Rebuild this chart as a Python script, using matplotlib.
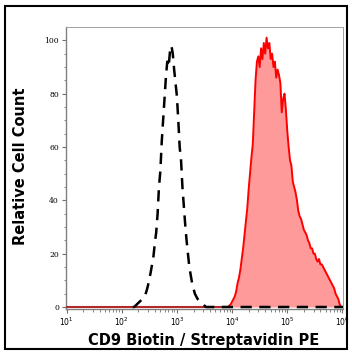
import numpy as np
import matplotlib
matplotlib.use("Agg")
import matplotlib.pyplot as plt
from matplotlib.patches import Rectangle
from matplotlib.ticker import FixedLocator, LogLocator, NullFormatter
import matplotlib.transforms as mtransforms

# ---- data (log10 fluorescence positions, relative counts) ----
control_log_start, control_log_step = 2.20, 0.025
control_counts = [
    0, 0, 0.5, 1, 1.5, 2, 2.5, 3, 3.5, 4.5,
    6, 8, 10.5, 13, 16, 19, 24, 28, 35, 45,
    51, 62, 70, 78, 86, 92, 90, 96, 98, 95,
    89, 84, 79, 70, 60, 55, 45, 38, 31, 25,
    20, 15, 12, 9, 7, 5, 4, 3, 2.5, 2,
    1.5, 1, 0.5, 0, 0,
]

stained_log_start, stained_log_step = 3.90, 0.025
stained_counts = [
    0, 0, 0.5, 1, 2, 3, 4, 6, 9, 11,
    14, 18, 22, 27, 32, 37, 44, 50, 56, 61,
    73, 85, 92, 94, 90, 97, 93, 99, 95, 101,
    97, 99, 93, 95, 90, 92, 86, 89, 87, 84,
    73, 78, 80, 74, 66, 60, 55, 53, 47, 45,
    43, 40, 36, 34, 33, 31, 29, 28, 27, 25,
    24, 22, 22, 20, 20, 18, 17, 18, 16, 16,
    15, 14, 13, 12, 11, 10, 9, 8, 7, 5,
    4, 3, 1, 0, 0,
]

x_tick_exponents = [1, 2, 3, 4, 5, 6]
y_ticks = [0, 20, 40, 60, 80, 100]
x_label = "CD9 Biotin / Streptavidin PE"
y_label = "Relative Cell Count"

# ---- figure ----
W, H = 352, 358
fig = plt.figure(figsize=(W / 100, H / 100), dpi=100)
ax = fig.add_axes([66 / W, 1 - 309 / H, (343 - 66) / W, (309 - 27) / H])

ctrl_x = 10 ** (control_log_start + control_log_step * np.arange(len(control_counts)))
stn_x = 10 ** (stained_log_start + stained_log_step * np.arange(len(stained_counts)))

xmin, xmax = 10 ** 0.99, 10 ** 6.01

# stained (filled red)
sx = np.concatenate([stn_x, [xmax]])
sy = np.concatenate([stained_counts, [0]])
ax.fill_between(stn_x, 0, stained_counts, color="#ff9a9a", lw=0, zorder=2)
ax.plot(sx, sy, color="#ff0000", lw=1.4, zorder=3)
# baseline (dark red) to the left of the stained peak
ax.plot([xmin, stn_x[0]], [0, 0], color="#b02a2a", lw=1.5, zorder=3)

# control (black dashed), including its baseline over the stained region
cx = np.concatenate([ctrl_x, [xmax]])
cy = np.concatenate([control_counts, [0]])
ax.plot(cx, cy, color="black", lw=1.8, ls=(0, (4.5, 3)), zorder=4)

ax.set_xscale("log")
ax.set_xlim(xmin, xmax)
ax.set_ylim(-0.75, 105)

ax.xaxis.set_major_locator(FixedLocator([10.0 ** e for e in x_tick_exponents]))
ax.xaxis.set_minor_locator(LogLocator(base=10, subs=np.arange(2, 10), numticks=20))
ax.xaxis.set_minor_formatter(NullFormatter())
ax.set_xticklabels([r"$10^{%d}$" % e for e in x_tick_exponents])
ax.set_yticks(y_ticks)
ax.set_yticks(np.arange(0, 105, 5), minor=True)
ax.set_yticklabels([str(v) for v in y_ticks])

plt.rcParams["mathtext.fontset"] = "dejavuserif"
for lab in ax.get_xticklabels():
    lab.set_fontfamily("DejaVu Serif")
    lab.set_fontsize(5.5)
    lab.set_transform(lab.get_transform() + mtransforms.ScaledTranslation(6 / 100, 0, fig.dpi_scale_trans))
for lab in ax.get_yticklabels():
    lab.set_fontfamily("DejaVu Serif")
    lab.set_fontsize(5.5)

ax.tick_params(axis="both", which="major", length=3, width=0.8, color="#707070", pad=2)
ax.tick_params(axis="both", which="minor", length=1.8, width=0.6, color="#707070")
for side in ["left", "bottom"]:
    ax.spines[side].set_color("#808080")
    ax.spines[side].set_linewidth(1.0)
for side in ["top", "right"]:
    ax.spines[side].set_color("#a0a0a0")
    ax.spines[side].set_linewidth(0.7)

fig.text(204 / W, 1 - 344.5 / H, x_label, ha="center", va="baseline",
         fontsize=10.5, fontweight="bold", family="DejaVu Sans")
fig.text(21 / W, 1 - 166 / H, y_label, ha="center", va="center", rotation=90,
         fontsize=10.5, fontweight="bold", family="DejaVu Sans")

fig.add_artist(Rectangle((5 / W, 1 - 349 / H), (347 - 5) / W, (349 - 6) / H,
                         transform=fig.transFigure, fill=False, ec="black", lw=1.5))

fig.savefig("out.png", dpi=100)
